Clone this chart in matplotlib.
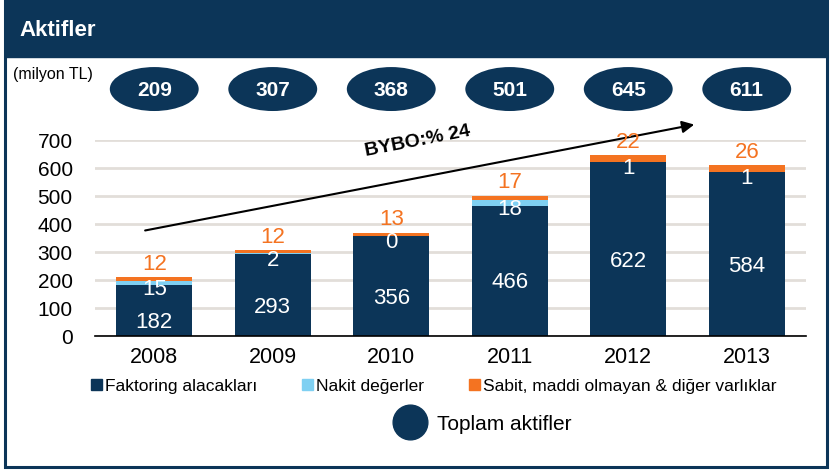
import matplotlib
matplotlib.use("Agg")
import matplotlib.pyplot as plt
import numpy as np
from matplotlib.patches import Rectangle, Ellipse
from matplotlib.lines import Line2D

plt.rcParams["font.family"] = ["Liberation Sans", "DejaVu Sans"]

years = ["2008", "2009", "2010", "2011", "2012", "2013"]
faktoring = [182, 293, 356, 466, 622, 584]
nakit = [15, 2, 0, 18, 1, 1]
sabit = [12, 12, 13, 17, 22, 26]
toplam = [209, 307, 368, 501, 645, 611]
series_names = ["Faktoring alacakları", "Nakit değerler", "Sabit, maddi olmayan & diğer varlıklar"]
cagr_label = "BYBO:% 24"

NAVY = "#0c3558"
LIGHT = "#7fd0f2"
ORANGE = "#f47321"
GRID = "#e2ded9"

W, H = 832, 477
fig = plt.figure(figsize=(W / 100, H / 100), dpi=100)

# frame and header band
fig.patches.append(Rectangle((5 / W, 9 / H), 822 / W, 466 / H, transform=fig.transFigure,
                             fill=False, edgecolor=NAVY, linewidth=2.2))
fig.patches.append(Rectangle((5 / W, 1 - 58 / H), 822 / W, 58 / H, transform=fig.transFigure,
                             facecolor=NAVY, edgecolor=NAVY))
fig.text(19 / W, 1 - 30 / H, "Aktifler", color="white", fontsize=16, fontweight="bold",
         va="center", ha="left")
fig.text(13 / W, 1 - 75 / H, "(milyon TL)", color="black", fontsize=11.5, va="center", ha="left")

ax = fig.add_axes([95 / W, (H - 337) / H, (806 - 95) / W, 196 / H])
x = np.arange(len(years))
bw = 0.64

ax.bar(x, faktoring, bw, color=NAVY, zorder=3)
ax.bar(x, nakit, bw, bottom=faktoring, color=LIGHT, zorder=3)
bot2 = np.array(faktoring) + np.array(nakit)
ax.bar(x, sabit, bw, bottom=bot2, color=ORANGE, zorder=3)

for i in range(len(years)):
    ax.annotate(str(faktoring[i]), (x[i], faktoring[i] / 2), xytext=(0, -8),
                textcoords="offset points", ha="center", va="center",
                color="white", fontsize=16, zorder=4)
    ax.annotate(str(nakit[i]), (x[i], faktoring[i] + nakit[i] / 2), xytext=(0, -4),
                textcoords="offset points", ha="center", va="center",
                color="white", fontsize=16, zorder=4)
    ax.annotate(str(sabit[i]), (x[i], bot2[i] + sabit[i]), xytext=(0, 10),
                textcoords="offset points", ha="center", va="center",
                color=ORANGE, fontsize=16, zorder=4)
    # total ellipses
    ax.add_patch(Ellipse((x[i], 882), 0.75, 157, facecolor=NAVY, edgecolor="none",
                         clip_on=False, zorder=4))
    ax.text(x[i], 882, str(toplam[i]), ha="center", va="center", color="white",
            fontsize=15, fontweight="bold", clip_on=False, zorder=5)

ax.set_xlim(-0.5, 5.5)
ax.set_ylim(0, 700)
ax.set_yticks(range(0, 701, 100))
ax.set_xticks(x)
ax.set_xticklabels(years)
ax.tick_params(axis="y", length=0, labelsize=15, pad=16)
ax.tick_params(axis="x", length=0, labelsize=15.5, pad=7)
ax.yaxis.grid(True, color=GRID, linewidth=2, zorder=0)
ax.set_axisbelow(True)
for s in ["top", "right", "left"]:
    ax.spines[s].set_visible(False)
ax.spines["bottom"].set_color("black")
ax.spines["bottom"].set_linewidth(1.2)
ax.spines["bottom"].set_zorder(5)

# growth arrow
ax.annotate("", xy=(4.58, 757), xytext=(-0.1, 375),
            arrowprops=dict(arrowstyle="-|>", color="black", lw=1.5, mutation_scale=18),
            annotation_clip=False)
ax.text(2.22, 697, cagr_label, rotation=11, ha="center", va="center", fontsize=14,
        fontweight="bold", clip_on=False)

handles = [Rectangle((0, 0), 1, 1, color=c) for c in (NAVY, LIGHT, ORANGE)]
fig.legend(handles, series_names, loc="center", bbox_to_anchor=(434 / W, 1 - 387 / H),
           ncol=3, frameon=False, fontsize=12.5, handlelength=0.6, handleheight=0.6,
           handletextpad=0.2, columnspacing=2.6)
circ = Line2D([], [], marker="o", linestyle="none", markersize=25, color=NAVY)
fig.legend([circ], ["Toplam aktifler"], loc="center", bbox_to_anchor=(480 / W, 1 - 425 / H),
           frameon=False, fontsize=15, handletextpad=0.3)

fig.savefig("out.png", dpi=100)
